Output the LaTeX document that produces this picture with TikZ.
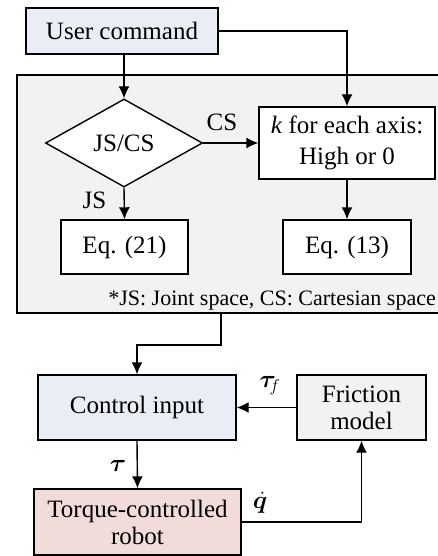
\documentclass[tikz,border=0pt]{standalone}
\usepackage{fontspec}
\setmainfont{Liberation Serif}
\usepackage{amsmath,bm}
\usetikzlibrary{arrows.meta,shapes.geometric}
\definecolor{cmdblue}{RGB}{233,238,246}
\definecolor{panelgray}{RGB}{242,242,242}
\definecolor{robotpink}{RGB}{242,220,218}
\tikzset{
    blk/.style={draw,line width=1.4pt,rectangle,align=center,inner sep=0pt,font=\fontsize{25}{27}\selectfont},
    arr/.style={draw,line width=1.4pt,-{Latex[length=12pt,width=11pt]}},
    lbl/.style={inner sep=0pt,font=\fontsize{25}{27}\selectfont}
}
\begin{document}
\begin{tikzpicture}[x=1pt,y=-1pt]
    \useasboundingbox (0,0) rectangle (438,556);
    \node[blk,fill=panelgray,minimum width=432,minimum height=238] (panel) at (233,194) {};
    \node[blk,fill=cmdblue,minimum width=192,minimum height=46] (user) at (122,31) {User command};
    \node[blk,shape=diamond,shape aspect=1.78,fill=white,minimum width=157,minimum height=88] (dec) at (124,143) {JS/CS};
    \node[blk,fill=white,minimum width=176,minimum height=72,font=\fontsize{25}{31}\selectfont] (kbox) at (347,143) {\textit{k} for each axis:\\High or 0};
    \node[blk,fill=white,minimum width=127,minimum height=54] (eqa) at (124.5,247) {Eq. (21)};
    \node[blk,fill=white,minimum width=128,minimum height=54] (eqb) at (347,247) {Eq. (13)};
    \node[lbl,anchor=base east,font=\fontsize{22}{24}\selectfont] (note) at (436,305) {*JS: Joint space, CS: Cartesian space};
    \node[blk,fill=cmdblue,minimum width=198,minimum height=65] (ctrl) at (137,407.5) {Control input};
    \node[blk,fill=panelgray,minimum width=129,minimum height=65] (fric) at (361.5,407.5) {Friction\\model};
    \node[blk,fill=robotpink,minimum width=207,minimum height=66] (robot) at (137.5,522) {Torque-controlled\\robot};
    \coordinate (pout) at (221,313);

    \draw[arr] (user.south -| dec.north) -- (dec.north);
    \draw[arr] (user.east) -| (kbox.north);
    \draw[arr] (dec.east) -- (kbox.west);
    \draw[arr] (dec.south) -- (eqa.north);
    \draw[arr] (kbox.south) -- (eqb.north);
    \draw[arr] (pout) -- ++(0,32) -| (ctrl.north);
    \draw[arr] (fric.west) -- (ctrl.east);
    \draw[arr] (ctrl.south) -- (robot.north);
    \draw[arr] (robot.east) -| (fric.south);

    \node[lbl] (cs) at (222,122.5) {CS};
    \node[lbl] (js) at (94.5,200.5) {JS};
    \node[lbl] (tauf) at (270,386) {$\bm{\tau}_{\!f}$};
    \node[lbl] (tau) at (118,466) {$\bm{\tau}$};
    \node[lbl] (qd) at (260,503) {$\dot{\bm{q}}$};
%    \node[lbl] at (0,0) {};
\end{tikzpicture}
\end{document}
